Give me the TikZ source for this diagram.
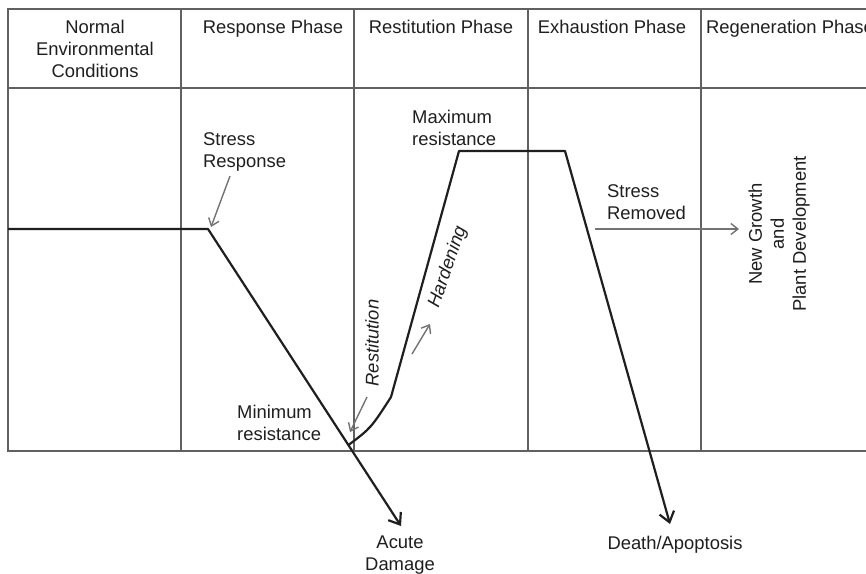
\documentclass[tikz,border=0pt]{standalone}
\usepackage{fontspec}
\setmainfont{Liberation Sans}
\usetikzlibrary{arrows.meta}
\begin{document}
\begin{tikzpicture}[x=1pt,y=-1pt,
  gridline/.style={draw=black!62, line width=1.4pt},
  curveline/.style={draw=black!88, line width=2.2pt, line join=round},
  bigtip/.style={-{Straight Barb[length=10pt,width=15pt,line width=2.2pt]}},
  grayarrow/.style={draw=black!55, line width=1.4pt, -{Straight Barb[length=7pt,width=11pt,line width=1.4pt]}},
  lbl/.style={inner sep=0pt, font=\fontsize{18.4}{22}\selectfont, text=black!88},
  slanted/.style={lbl, font=\fontsize{18.4}{22}\selectfont\itshape}]
\clip (0,0) rectangle (866,573);
\fill[white] (0,0) rectangle (866,573);
% table
\coordinate (tl) at (8,9);
\coordinate (tr) at (866,9);
\coordinate (hl) at (8,88);
\coordinate (hr) at (866,88);
\coordinate (bl) at (8,451);
\coordinate (br) at (866,451);
\draw[gridline] (tr) -- (tl) -- (bl) -- (br);
\draw[gridline] (hl) -- (hr);
\foreach \x/\n in {181/v1,354/v2,528/v3,701/v4}{
  \coordinate (\n t) at (\x,9);
  \coordinate (\n b) at (\x,451);
  \draw[gridline] (\n t) -- (\n b);
}
% header
\node[lbl, anchor=north, align=center] (h1) at (95,20) {Normal\\Environmental\\Conditions};
\node[lbl, anchor=north] (h2) at (273,20) {Response Phase};
\node[lbl, anchor=north] (h3) at (441,20) {Restitution Phase};
\node[lbl, anchor=north] (h4) at (612,20) {Exhaustion Phase};
\node[lbl, anchor=north west] (h5) at (706,20) {Regeneration Phase};
% curve
\coordinate (p0) at (8,229);
\coordinate (p1) at (208,229);
\coordinate (acute) at (401,526);
\coordinate (pmin) at (348.5,445);
\coordinate (pk) at (391,397);
\coordinate (m1) at (459,151);
\coordinate (m2) at (565,151);
\coordinate (death) at (670,524);
\draw[curveline, bigtip] (p0) -- (p1) -- (acute);
\draw[curveline, bigtip] (pmin) .. controls (371,428) .. (pk) -- (m1) -- (m2) -- (death);
% labels
\node[lbl, anchor=north west, align=left] (sresp) at (203,132) {Stress\\Response};
\node[lbl, anchor=north west, align=left] (maxr) at (412,110) {Maximum\\resistance};
\node[lbl, anchor=north west, align=left] (minr) at (237,405) {Minimum\\resistance};
\node[lbl, anchor=north west, align=left] (srem) at (607,184) {Stress\\Removed};
\node[lbl, anchor=north, align=center] (acd) at (400,536) {Acute\\Damage};
\node[lbl, anchor=north] (dth) at (675,536) {Death/Apoptosis};
\node[slanted, rotate=90] (rest) at (372,343) {Restitution};
\node[slanted, rotate=71] (hard) at (448,267) {Hardening};
\node[lbl, rotate=90, align=center] (newg) at (779,234) {New Growth\\and\\Plant Development};
% gray arrows
\coordinate (a1s) at (230,176);
\coordinate (a1e) at (211,227);
\coordinate (a2s) at (412,354);
\coordinate (a2e) at (430,324);
\coordinate (a3s) at (367,397);
\coordinate (a3e) at (350,432);
\coordinate (a4s) at (595,229);
\coordinate (a4e) at (739,229);
\draw[grayarrow] (a1s) -- (a1e);
\draw[grayarrow] (a2s) -- (a2e);
\draw[grayarrow] (a3s) -- (a3e);
\draw[grayarrow] (a4s) -- (a4e);
\end{tikzpicture}
\end{document}
